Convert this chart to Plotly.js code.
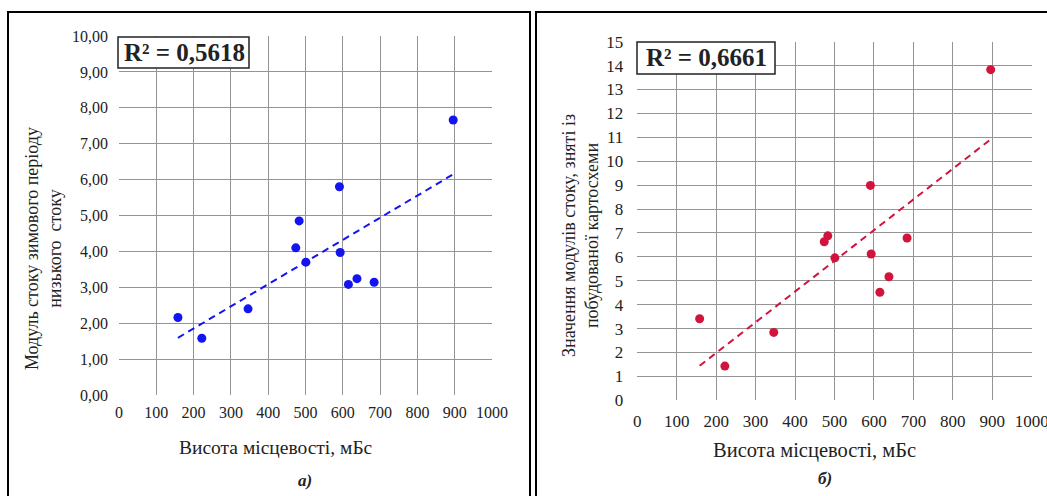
<!DOCTYPE html>
<html>
<head>
<meta charset="utf-8">
<script src="https://cdn.plot.ly/plotly-3.0.1.min.js"></script>
<style>
html,body{margin:0;padding:0;background:#fff;}
#chart{width:1047px;height:496px;}
</style>
</head>
<body>
<div id="chart"></div>
<script>
// ---- data ----
var elevation = [158, 222, 346, 474, 483, 501, 591, 593, 615, 638, 684, 896];
var winterRunoff = [2.16, 1.58, 2.40, 4.10, 4.85, 3.70, 5.80, 3.97, 3.08, 3.24, 3.14, 7.66];
var mapRunoff = [3.41, 1.43, 2.84, 6.63, 6.88, 5.96, 8.99, 6.12, 4.52, 5.17, 6.79, 13.83];

var xTickVals = [0, 100, 200, 300, 400, 500, 600, 700, 800, 900, 1000];
var xTickText = ['0', '100', '200', '300', '400', '500', '600', '700', '800', '900', '1000'];
var yTickValsA = [0, 1, 2, 3, 4, 5, 6, 7, 8, 9, 10];
var yTickTextA = ['0,00', '1,00', '2,00', '3,00', '4,00', '5,00', '6,00', '7,00', '8,00', '9,00', '10,00'];
var yTickValsB = [0, 1, 2, 3, 4, 5, 6, 7, 8, 9, 10, 11, 12, 13, 14, 15];
var yTickTextB = ['0', '1', '2', '3', '4', '5', '6', '7', '8', '9', '10', '11', '12', '13', '14', '15'];

var r2TextA = 'R² = 0,5618';
var r2TextB = 'R² = 0,6661';
var xTitle = 'Висота місцевості, мБс';
var yTitleA = 'Модуль стоку зимового періоду<br>низького  стоку';
var yTitleB = 'Значення модулів стоку, зняті із<br>побудованої картосхеми';
var panelA = 'а)';
var panelB = 'б)';

// ---- linear trend (least squares, like the spreadsheet trendline) ----
function trend(xs, ys) {
  var n = xs.length, mx = 0, my = 0;
  for (var i = 0; i < n; i++) { mx += xs[i]; my += ys[i]; }
  mx /= n; my /= n;
  var sxy = 0, sxx = 0;
  for (var j = 0; j < n; j++) { sxy += (xs[j] - mx) * (ys[j] - my); sxx += (xs[j] - mx) * (xs[j] - mx); }
  var b = sxy / sxx, a = my - b * mx;
  var x0 = Math.min.apply(null, xs), x1 = Math.max.apply(null, xs);
  return { x: [x0, x1], y: [a + b * x0, a + b * x1] };
}
var tA = trend(elevation, winterRunoff);
var tB = trend(elevation, mapRunoff);

// ---- geometry helpers (pixels -> paper) ----
var W = 1047, H = 496;
function px(x) { return x / W; }
function py(y) { return 1 - y / H; }

var FONT = 'Liberation Serif';
var blue = '#1414f0';
var red = '#d2143c';

var traces = [
  { x: elevation, y: winterRunoff, type: 'scatter', mode: 'markers', xaxis: 'x', yaxis: 'y',
    marker: { color: blue, size: 9 }, hoverinfo: 'x+y' },
  { x: tA.x, y: tA.y, type: 'scatter', mode: 'lines', xaxis: 'x', yaxis: 'y',
    line: { color: blue, width: 2, dash: '7px,5px' }, hoverinfo: 'skip' },
  { x: elevation, y: mapRunoff, type: 'scatter', mode: 'markers', xaxis: 'x2', yaxis: 'y2',
    marker: { color: red, size: 9 }, hoverinfo: 'x+y' },
  { x: tB.x, y: tB.y, type: 'scatter', mode: 'lines', xaxis: 'x2', yaxis: 'y2',
    line: { color: red, width: 2, dash: '7px,5px' }, hoverinfo: 'skip' }
];

var grid = '#949494';
function xa(domain, anchor, fs, standoff) {
  return { domain: domain, anchor: anchor, range: [0, 1000], tickmode: 'array',
    tickvals: xTickVals, ticktext: xTickText, showgrid: true, gridcolor: grid, gridwidth: 1,
    zeroline: false, showline: false, ticks: '', ticklabelstandoff: standoff,
    ticklabeloverflow: 'allow',
    tickfont: { family: FONT, size: fs, color: '#222' }, fixedrange: true };
}
function ya(domain, anchor, range, vals, text, fs, standoff) {
  return { domain: domain, anchor: anchor, range: range, tickmode: 'array',
    tickvals: vals, ticktext: text, showgrid: true, gridcolor: grid, gridwidth: 1,
    zeroline: false, showline: false, ticks: '', ticklabelstandoff: standoff,
    ticklabeloverflow: 'allow',
    tickfont: { family: FONT, size: fs, color: '#222' }, fixedrange: true };
}

var layout = {
  width: W, height: H,
  margin: { l: 0, r: 0, t: 0, b: 0, pad: 0 },
  paper_bgcolor: '#ffffff', plot_bgcolor: '#ffffff',
  font: { family: FONT, color: '#222' },
  showlegend: false,
  xaxis: xa([px(119), px(492)], 'y', 16, 6),
  yaxis: ya([py(395), py(36)], 'x', [0, 10], yTickValsA, yTickTextA, 16, 10),
  xaxis2: xa([px(637.3), px(1031.7)], 'y2', 17, 9),
  yaxis2: ya([py(400.3), py(41.7)], 'x2', [0, 15], yTickValsB, yTickTextB, 17, 13),
  shapes: [
    // outer frames
    { type: 'rect', xref: 'paper', yref: 'paper', x0: px(8), x1: px(530), y0: py(520), y1: py(12),
      line: { color: '#000', width: 2 }, fillcolor: 'rgba(0,0,0,0)', layer: 'above' },
    { type: 'rect', xref: 'paper', yref: 'paper', x0: px(536), x1: px(1070), y0: py(520), y1: py(12),
      line: { color: '#000', width: 2 }, fillcolor: 'rgba(0,0,0,0)', layer: 'above' },
    // R² boxes
    { type: 'rect', xref: 'paper', yref: 'paper', x0: px(118), x1: px(249), y0: py(68), y1: py(37),
      line: { color: '#222', width: 1.5 }, fillcolor: '#fff', layer: 'above' },
    { type: 'rect', xref: 'paper', yref: 'paper', x0: px(637), x1: px(775), y0: py(74), y1: py(42),
      line: { color: '#222', width: 1.5 }, fillcolor: '#fff', layer: 'above' }
  ],
  annotations: [
    { xref: 'paper', yref: 'paper', x: px(184), y: py(52), text: '<b>' + r2TextA + '</b>', showarrow: false,
      xanchor: 'center', yanchor: 'middle', font: { family: FONT, size: 25, color: '#222' } },
    { xref: 'paper', yref: 'paper', x: px(706), y: py(57.5), text: '<b>' + r2TextB + '</b>', showarrow: false,
      xanchor: 'center', yanchor: 'middle', font: { family: FONT, size: 25, color: '#222' } },
    { xref: 'paper', yref: 'paper', x: px(276), y: py(447), text: xTitle, showarrow: false,
      xanchor: 'center', yanchor: 'middle', font: { family: FONT, size: 19.5, color: '#222' } },
    { xref: 'paper', yref: 'paper', x: px(814), y: py(450), text: xTitle, showarrow: false,
      xanchor: 'center', yanchor: 'middle', font: { family: FONT, size: 20.5, color: '#222' } },
    { xref: 'paper', yref: 'paper', x: px(43), y: py(249), text: yTitleA, showarrow: false, textangle: -90,
      xanchor: 'center', yanchor: 'middle', font: { family: FONT, size: 18, color: '#222' } },
    { xref: 'paper', yref: 'paper', x: px(580), y: py(236), text: yTitleB, showarrow: false, textangle: -90,
      xanchor: 'center', yanchor: 'middle', font: { family: FONT, size: 18, color: '#222' } },
    { xref: 'paper', yref: 'paper', x: px(305), y: py(480), text: '<b><i>' + panelA + '</i></b>', showarrow: false,
      xanchor: 'center', yanchor: 'middle', font: { family: FONT, size: 17, color: '#222' } },
    { xref: 'paper', yref: 'paper', x: px(825), y: py(478), text: '<b><i>' + panelB + '</i></b>', showarrow: false,
      xanchor: 'center', yanchor: 'middle', font: { family: FONT, size: 17, color: '#222' } }
  ]
};

Plotly.newPlot('chart', traces, layout, { staticPlot: true, displayModeBar: false });
</script>
</body>
</html>
